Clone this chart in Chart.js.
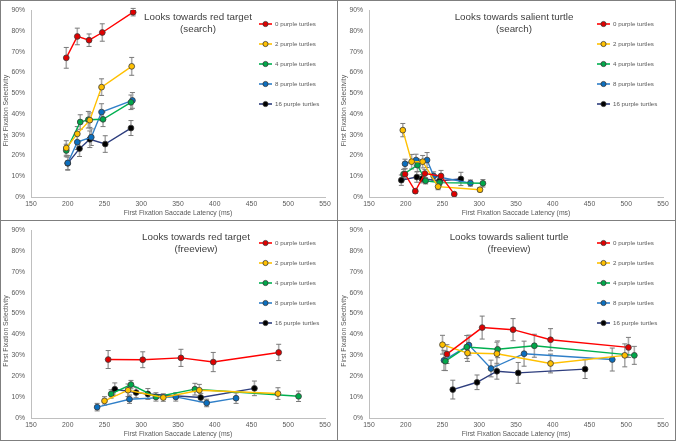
<!DOCTYPE html>
<html><head><meta charset="utf-8">
<script src="https://cdn.jsdelivr.net/npm/chart.js@4/dist/chart.umd.min.js"></script>
<style>
html,body{margin:0;padding:0;background:#fff;}
#wrap{position:relative;width:676px;height:441px;overflow:hidden;background:#fff;}
canvas{position:absolute;}
.bd{position:absolute;box-sizing:border-box;border:1px solid #7f7f7f;pointer-events:none;}
</style></head><body>
<div id="wrap">
<canvas id="c1" width="338" height="220" style="left:0;top:0"></canvas>
<canvas id="c2" width="338" height="220" style="left:338px;top:0"></canvas>
<canvas id="c3" width="338" height="221" style="left:0;top:220px"></canvas>
<canvas id="c4" width="338" height="221" style="left:338px;top:220px"></canvas>
<div class="bd" style="left:0;top:0;width:338px;height:221px"></div>
<div class="bd" style="left:337px;top:0;width:339px;height:221px"></div>
<div class="bd" style="left:0;top:220px;width:338px;height:221px"></div>
<div class="bd" style="left:337px;top:220px;width:339px;height:221px"></div>
</div>
<script>
// ---------- data ----------
const seriesNames = ['0 purple turtles','2 purple turtles','4 purple turtles','8 purple turtles','16 purple turtles'];
const xTickMin = 150, xTickMax = 550, xTickStep = 50;
const yTickMin = 0, yTickMax = 90, yTickStep = 10;

// Panel 1: Looks towards red target (search)
const p1Latency = [
  [198, 213, 229, 247, 289],
  [198, 213, 230, 246, 287],
  [198, 217, 228, 248, 286],
  [200, 213, 232, 246, 288],
  [200, 216, 230, 251, 286]
];
const p1Select = [
  [67, 77.3, 75.5, 79.2, 89],
  [23.6, 30.4, 37, 52.9, 62.9],
  [22.4, 36.1, 37.2, 37.4, 45.6],
  [16.4, 26.4, 28.8, 40.9, 46.5],
  [16.2, 23.3, 27.8, 25.5, 33.2]
];
const p1Err = [
  [5, 4, 3, 4.2, 1.8],
  [3.5, 3.5, 3.5, 4, 4.3],
  [3, 3.5, 4, 3.5, 3.5],
  [3.5, 3.5, 4, 4, 3.8],
  [3, 3.8, 4, 4, 3.6]
];

// Panel 2: Looks towards salient turtle (search)
const p2Latency = [
  [199, 213, 226, 248, 266],
  [196, 208, 223, 244, 301],
  [197, 216, 227, 246, 305],
  [199, 214, 229, 238, 288],
  [194, 215, 222, 246, 275]
];
const p2Select = [
  [11, 2.8, 11.3, 10.1, 1.4],
  [32.2, 17, 17, 5, 3.5],
  [11, 15.3, 7.8, 6.9, 6.6],
  [16, 17.8, 17.8, 10.1, 6.7],
  [8.1, 9.6, 8.8, 7.8, 8.7]
];
const p2Err = [
  [2.5, 1, 2, 2.7, 0.8],
  [3.2, 3.5, 3, 1.5, 1],
  [2.3, 3, 1.5, 1.5, 1.8],
  [2.2, 2.8, 3.6, 2, 1.5],
  [2.5, 2.5, 2, 2, 3.2]
];

// Panel 3: Looks towards red target (freeview)
const p3Latency = [
  [255, 302, 354, 398, 487],
  [250, 282, 330, 379, 486],
  [259, 286, 320, 373, 514],
  [240, 284, 347, 389, 429],
  [264, 293, 309, 381, 454]
];
const p3Select = [
  [28, 27.9, 28.8, 26.8, 31.4],
  [8.2, 13.3, 9.8, 13.3, 11.7],
  [11.5, 16, 10.1, 13.8, 10.4],
  [5.2, 9, 10.1, 7.2, 9.5],
  [13.8, 12.2, 11.5, 9.8, 14.2]
];
const p3Err = [
  [4.3, 3.8, 4.1, 4.6, 3.9],
  [2, 3, 1.8, 2.8, 2.8],
  [2, 2, 2, 2.8, 2.5],
  [1.8, 2, 2, 1.8, 2.5],
  [3, 2.5, 2.6, 2, 3.5]
];

// Panel 4: Looks towards salient turtle (freeview)
const p4Latency = [
  [256, 304, 346, 397, 503],
  [250, 284, 324, 397, 498],
  [254, 283, 325, 375, 511],
  [252, 286, 316, 361, 481],
  [264, 297, 324, 353, 444]
];
const p4Select = [
  [30.6, 43.3, 42.3, 37.5, 33.8],
  [35.1, 31.1, 30.8, 26.1, 30],
  [27.2, 34, 32.9, 34.6, 30],
  [27.6, 34.9, 23.7, 30.8, 28],
  [13.6, 17.1, 22.4, 21.6, 23.4]
];
const p4Err = [
  [4.5, 5.5, 5.3, 5.3, 4.8],
  [4.5, 4, 5.5, 4.5, 5.5],
  [4.5, 5.5, 4, 5.5, 4.3],
  [4.8, 4.8, 4, 6, 5.5],
  [4.5, 3.5, 3.8, 5, 4.5]
];

const panelTitles = [
  ['Looks towards red target', '(search)'],
  ['Looks towards salient turtle', '(search)'],
  ['Looks towards red target', '(freeview)'],
  ['Looks towards salient turtle', '(freeview)']
];

// ---------- styles ----------
const lineColors = ['#FF0000', '#FFC000', '#00B050', '#2F7FC8', '#2E3E7E'];
const markerFill = ['#E00000', '#FFC000', '#00A84A', '#0B6FBF', '#000000'];
const markerBorder = '#3a3a3a';
const FONT = "'Liberation Sans', Arial, sans-serif";
const txtGray = '#595959';

// title & legend placement (panel-local pixels)
const titleCenters = [198, 176, 196, 171];
const legendTops = [24, 24, 23, 23];

const decor = {
  id: 'decor',
  beforeDatasetsDraw(chart) {
    const ctx = chart.ctx, xs = chart.scales.x, ys = chart.scales.y;
    ctx.save();
    chart.data.datasets.forEach(ds => {
      ds.data.forEach(p => {
        const x = xs.getPixelForValue(p.x);
        const y1 = ys.getPixelForValue(p.y - p.e);
        const y2 = ys.getPixelForValue(p.y + p.e);
        ctx.strokeStyle = '#ababab';
        ctx.lineWidth = 1.6;
        ctx.beginPath(); ctx.moveTo(x, y1); ctx.lineTo(x, y2); ctx.stroke();
        ctx.strokeStyle = '#7a7a7a';
        ctx.lineWidth = 1;
        ctx.beginPath();
        ctx.moveTo(x - 2.5, y1); ctx.lineTo(x + 2.5, y1);
        ctx.moveTo(x - 2.5, y2); ctx.lineTo(x + 2.5, y2);
        ctx.stroke();
      });
    });
    ctx.restore();
  },
  afterDraw(chart) {
    const ctx = chart.ctx;
    const o = chart.options.plugins.decor;
    const ca = chart.chartArea;
    ctx.save();
    // panel title
    ctx.fillStyle = '#404040';
    ctx.font = '9.8px ' + FONT;
    ctx.textAlign = 'center';
    ctx.textBaseline = 'middle';
    ctx.fillText(o.title[0], o.titleX, 17);
    ctx.fillText(o.title[1], o.titleX, 29.5);
    // y-axis title
    ctx.save();
    ctx.translate(6, (ca.top + ca.bottom) / 2 + 7);
    ctx.rotate(-Math.PI / 2);
    ctx.font = '6.8px ' + FONT;
    ctx.fillStyle = txtGray;
    ctx.fillText('First Fixation Selectivity', 0, 0);
    ctx.restore();
    // legend
    ctx.font = '6.2px ' + FONT;
    ctx.textAlign = 'left';
    chart.data.datasets.forEach((ds, i) => {
      const y = o.legendTop + i * 20;
      ctx.strokeStyle = lineColors[i];
      ctx.lineWidth = 1.6;
      ctx.beginPath(); ctx.moveTo(259, y); ctx.lineTo(272, y); ctx.stroke();
      ctx.beginPath(); ctx.arc(265.5, y, 2.6, 0, Math.PI * 2);
      ctx.fillStyle = markerFill[i]; ctx.fill();
      ctx.strokeStyle = markerBorder; ctx.lineWidth = 0.8; ctx.stroke();
      ctx.fillStyle = txtGray;
      ctx.fillText(ds.label, 275, y + 0.5);
    });
    ctx.restore();
  }
};

function makePanel(id, idx, lat, sel, err) {
  const datasets = seriesNames.map((name, i) => ({
    label: name,
    data: lat[i].map((x, j) => ({x: x, y: sel[i][j], e: err[i][j]})),
    showLine: true,
    borderColor: lineColors[i],
    borderWidth: 1.4,
    backgroundColor: markerFill[i],
    pointBackgroundColor: markerFill[i],
    pointBorderColor: markerBorder,
    pointBorderWidth: 0.8,
    pointRadius: 2.9,
    tension: 0
  }));
  new Chart(document.getElementById(id), {
    type: 'scatter',
    data: {datasets},
    plugins: [decor],
    options: {
      responsive: false,
      animation: false,
      layout: {padding: {left: 0, right: 13, top: 9, bottom: 0}},
      plugins: {
        legend: {display: false},
        tooltip: {enabled: false},
        decor: {title: panelTitles[idx], titleX: titleCenters[idx], legendTop: legendTops[idx]}
      },
      scales: {
        x: {
          type: 'linear', min: xTickMin, max: xTickMax,
          ticks: {stepSize: xTickStep, color: txtGray, font: {size: 6.8, family: FONT}, padding: 3, maxRotation: 0},
          grid: {display: false, drawTicks: false},
          border: {display: true, color: '#bfbfbf', width: 1},
          title: {display: true, text: 'First Fixation Saccade Latency (ms)', color: txtGray,
                  font: {size: 6.8, family: FONT}, padding: {top: 0, bottom: 3}},
          afterFit(s) { s.height = 23; }
        },
        y: {
          min: yTickMin, max: yTickMax,
          ticks: {stepSize: yTickStep, color: txtGray, font: {size: 6.8, family: FONT}, padding: 6,
                  callback: v => v + '%'},
          grid: {display: false, drawTicks: false},
          border: {display: true, color: '#bfbfbf', width: 1},
          afterFit(s) { s.width = 31; }
        }
      }
    }
  });
}

makePanel('c1', 0, p1Latency, p1Select, p1Err);
makePanel('c2', 1, p2Latency, p2Select, p2Err);
makePanel('c3', 2, p3Latency, p3Select, p3Err);
makePanel('c4', 3, p4Latency, p4Select, p4Err);
</script>
</body></html>
